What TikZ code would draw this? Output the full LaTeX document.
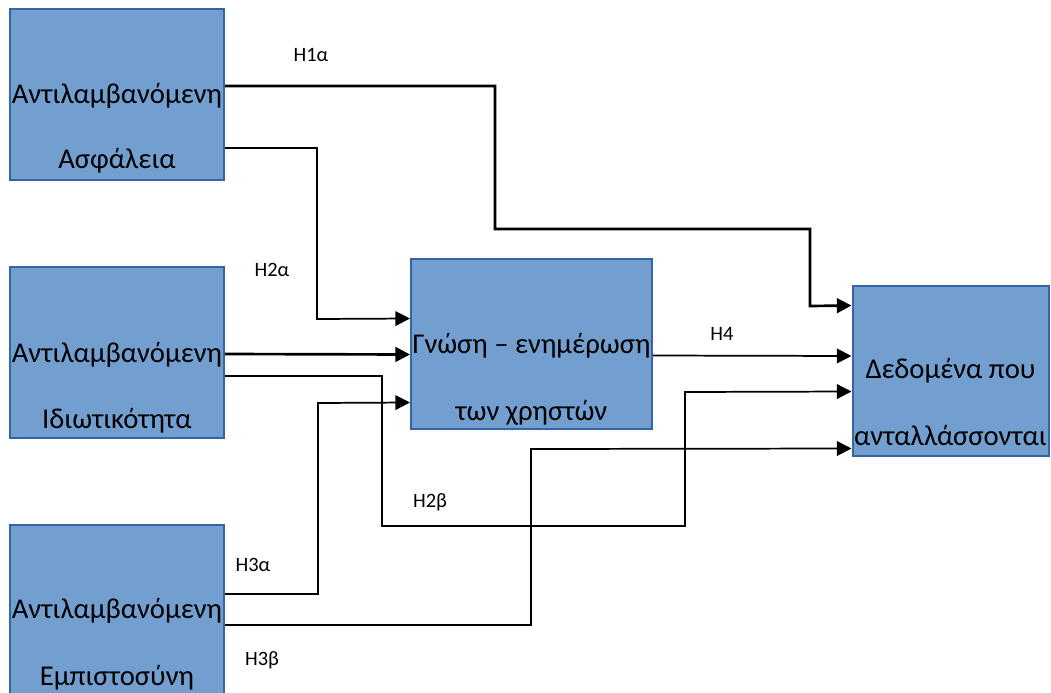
\documentclass[tikz,border=0pt]{standalone}
\usepackage{fontspec}
\setmainfont{Carlito}
\usetikzlibrary{arrows.meta,calc}
\definecolor{boxfill}{HTML}{729FCF}
\definecolor{boxline}{HTML}{3465A4}
\tikzset{
  box/.style={draw=boxline,fill=boxfill,line width=1.5pt,inner sep=0pt},
  boxtxt/.style={anchor=base,font=\fontsize{21.5pt}{25pt}\selectfont,inner sep=0pt},
  lbl/.style={font=\fontsize{15.3pt}{18pt}\selectfont,inner sep=0pt},
  conn/.style={line width=1.3pt,-{Triangle[length=11pt,width=11pt]}},
  connthick/.style={line width=2pt,-{Triangle[length=11pt,width=11pt]}},
}
\begin{document}
\begin{tikzpicture}[x=0.75pt,y=-0.75pt]
\clip (0,0) rectangle (1051,693);
\fill[white] (0,0) rectangle (1051,693);
% boxes
\node[box,minimum width=160.5pt,minimum height=128.25pt] (A) at (117,94.5) {};
\node[box,minimum width=160.5pt,minimum height=128.25pt] (B) at (117,352.5) {};
\node[box,minimum width=160.5pt,minimum height=128.25pt] (C) at (117,610.5) {};
\node[box,minimum width=180.75pt,minimum height=127.5pt] (M) at (531.5,344) {};
\node[box,minimum width=147pt,minimum height=127.5pt] (R) at (950.5,371) {};
% box texts
\node[boxtxt] (A1) at (117,103) {Αντιλαμβανόμενη};
\node[boxtxt] (A2) at (117,168) {Ασφάλεια};
\node[boxtxt] (B1) at (117,362) {Αντιλαμβανόμενη};
\node[boxtxt] (B2) at (117,428) {Ιδιωτικότητα};
\node[boxtxt] (C1) at (117,618) {Αντιλαμβανόμενη};
\node[boxtxt] (C2) at (117,685) {Εμπιστοσύνη};
\node[boxtxt] (M1) at (531.5,353) {Γνώση – ενημέρωση};
\node[boxtxt] (M2) at (531.5,420) {των χρηστών};
\node[boxtxt] (R1) at (950.5,378) {Δεδομένα που};
\node[boxtxt] (R2) at (950.5,445) {ανταλλάσσονται};
% connectors
\draw[connthick] ($(A.north east)+(0,78)$) -| (495,229) -| (810,306) -- ($(R.north west)+(0,20.5)$);
\draw[conn] ($(A.north east)+(0,140)$) -| (317,319) -- ($(M.north west)+(0,60.5)$);
\draw[connthick] ($(B.north east)+(0,88)$) -- ($(M.north west)+(0,96.5)$);
\draw[conn] ($(B.north east)+(0,110)$) -| (382,526) -| (685,392) -- ($(R.north west)+(0,106.5)$);
\draw[conn] ($(C.north east)+(0,70)$) -| (318,403) -- ($(M.north west)+(0,144.5)$);
\draw[conn] ($(C.north east)+(0,101)$) -| (531,449) -- ($(R.north west)+(0,163.5)$);
\draw[conn] ($(M.north east)+(0,97.5)$) -- ($(R.north west)+(0,71)$);
% labels
\node[lbl] (L1a) at (311,55) {H1α};
\node[lbl] (L2a) at (272,270) {H2α};
\node[lbl] (L2b) at (430,502) {H2β};
\node[lbl] (L3a) at (253,565) {H3α};
\node[lbl] (L3b) at (262,660) {H3β};
\node[lbl] (L4) at (722,334) {H4};
\end{tikzpicture}
\end{document}
